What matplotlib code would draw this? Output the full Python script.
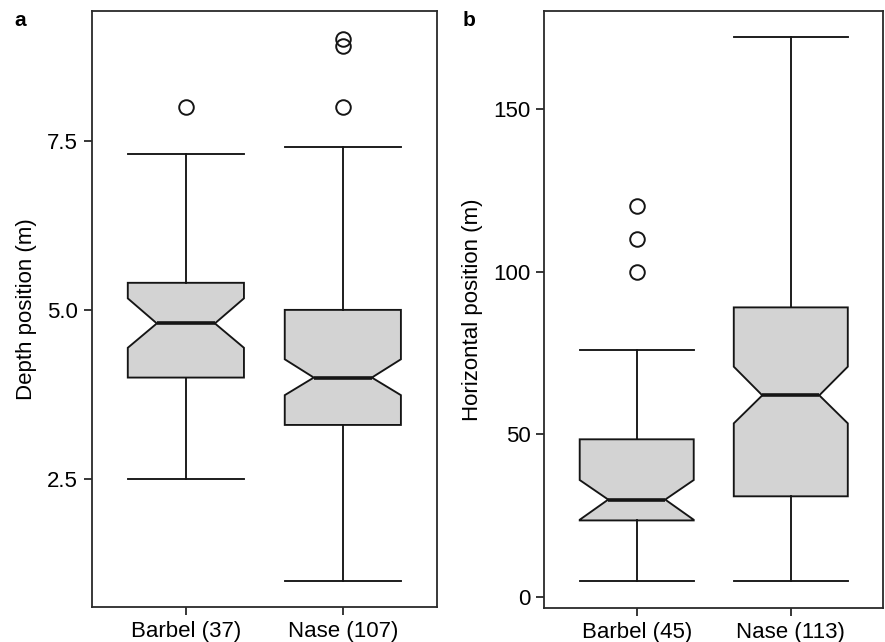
import matplotlib
matplotlib.use('Agg')
from matplotlib import pyplot as plt

plt.rcParams['font.family'] = ['Liberation Sans', 'DejaVu Sans']

# values
depth_labels = ['Barbel (37)', 'Nase (107)']
depth_med = [4.8, 4.0]
depth_q1 = [4.0, 3.3]
depth_q3 = [5.4, 5.0]
depth_lo = [2.5, 1.0]
depth_hi = [7.3, 7.4]
depth_cilo = [4.44, 3.74]
depth_cihi = [5.17, 4.27]
depth_out = [[8.0], [8.0, 8.9, 9.0]]

horiz_labels = ['Barbel (45)', 'Nase (113)']
horiz_med = [30, 62]
horiz_q1 = [23.6, 31]
horiz_q3 = [48.5, 89]
horiz_lo = [5, 5]
horiz_hi = [76, 172]
horiz_cilo = [23.8, 53.4]
horiz_cihi = [36, 70.8]
horiz_out = [[100, 110, 120], []]

line_col = '#151515'


def make_stats(labels, med, q1, q3, lo, hi, cilo, cihi, out):
    stats = []
    for i in range(len(labels)):
        stats.append(dict(label=labels[i], med=med[i], q1=q1[i], q3=q3[i],
                          whislo=lo[i], whishi=hi[i], cilo=cilo[i],
                          cihi=cihi[i], fliers=out[i]))
    return stats


def panel(ax, stats, ylim, yticks, yticklabels, ylabel):
    ax.bxp(stats, positions=[1, 2], widths=0.74, shownotches=True,
           patch_artist=True, showcaps=True,
           boxprops=dict(facecolor='#d3d3d3', edgecolor=line_col, linewidth=1.35),
           medianprops=dict(color=line_col, linewidth=2.6, solid_capstyle='butt'),
           whiskerprops=dict(color=line_col, linewidth=1.35, linestyle='-'),
           capprops=dict(color=line_col, linewidth=1.35),
           capwidths=0.74,
           flierprops=dict(marker='o', markersize=10.5, markerfacecolor='none',
                           markeredgecolor=line_col, markeredgewidth=1.4))
    ax.set_xlim(0.4, 2.6)
    ax.set_ylim(*ylim)
    ax.set_yticks(yticks)
    ax.set_yticklabels(yticklabels)
    ax.set_ylabel(ylabel, fontsize=16, labelpad=7)
    ax.tick_params(axis='both', labelsize=16, length=6, width=1.2,
                   color=line_col, pad=4)
    for s in ax.spines.values():
        s.set_color('#2a2a2a')
        s.set_linewidth(1.3)


fig = plt.figure(figsize=(8.85, 6.42), dpi=100)
ax1 = fig.add_axes([0.1036, 0.0545, 0.3902, 0.9288])
ax2 = fig.add_axes([0.6150, 0.0534, 0.3830, 0.9295])

panel(ax1, make_stats(depth_labels, depth_med, depth_q1, depth_q3, depth_lo,
                      depth_hi, depth_cilo, depth_cihi, depth_out),
      (0.61, 9.42), [2.5, 5.0, 7.5], ['2.5', '5.0', '7.5'], 'Depth position (m)')
panel(ax2, make_stats(horiz_labels, horiz_med, horiz_q1, horiz_q3, horiz_lo,
                      horiz_hi, horiz_cilo, horiz_cihi, horiz_out),
      (-3.2, 180), [0, 50, 100, 150], ['0', '50', '100', '150'],
      'Horizontal position (m)')

fig.text(14 / 885, 1 - 26 / 642, 'a', fontsize=15, fontweight='bold')
fig.text(463 / 885, 1 - 26 / 642, 'b', fontsize=15, fontweight='bold')

fig.savefig('out.png', dpi=100)
